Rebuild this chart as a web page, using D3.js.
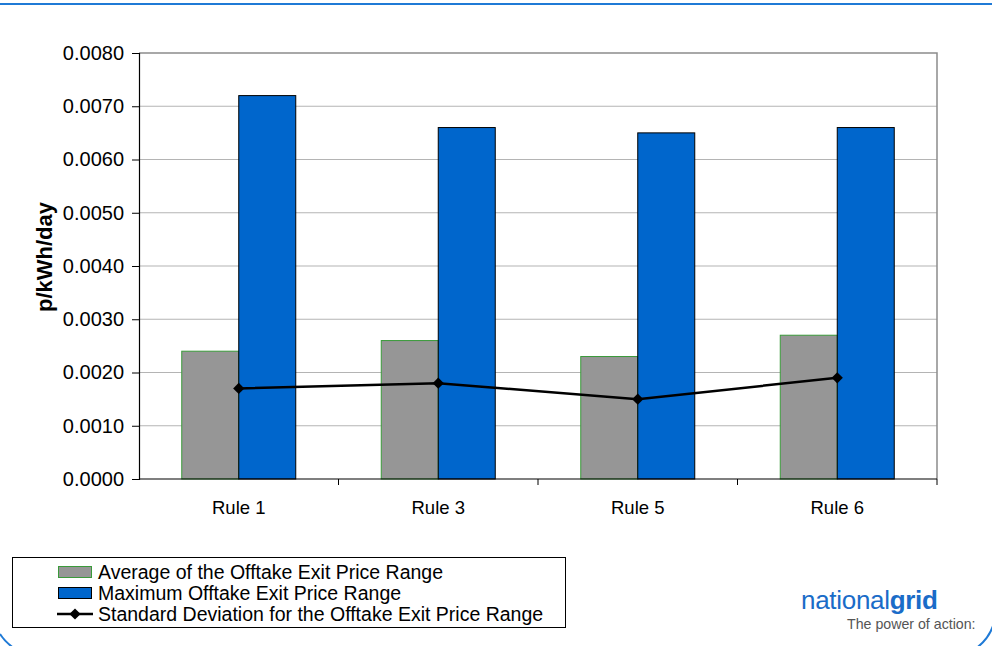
<!DOCTYPE html>
<html>
<head>
<meta charset="utf-8">
<script src="https://cdn.jsdelivr.net/npm/d3@7/dist/d3.min.js"></script>
<style>
  html, body { margin: 0; padding: 0; background: #fff; }
  svg { display: block; font-family: "Liberation Sans", Arial, sans-serif; }
</style>
</head>
<body>
<svg id="chart" width="992" height="646"></svg>
<script>
// Offtake exit price statistics per charging rule (p/kWh/day)
const categories = ["Rule 1", "Rule 3", "Rule 5", "Rule 6"];
const averageRange = [0.0024, 0.0026, 0.0023, 0.0027];
const maximumRange = [0.0072, 0.0066, 0.0065, 0.0066];
const stdDeviation = [0.0017, 0.0018, 0.0015, 0.0019];
const yTicks = [0, 0.001, 0.002, 0.003, 0.004, 0.005, 0.006, 0.007, 0.008];
const seriesNames = [
  "Average of the Offtake Exit Price Range",
  "Maximum Offtake Exit Price Range",
  "Standard Deviation for the Offtake Exit Price Range"
];

const svg = d3.select("#chart");
const plot = { left: 139, right: 937, top: 53, bottom: 479 };

// Page frame (blue rounded border)
const frame = svg.append("g").attr("fill", "none").attr("stroke", "#1f7ad6").attr("stroke-width", 2);
frame.append("line").attr("x1", 0).attr("x2", 992).attr("y1", 4).attr("y2", 4);
frame.append("path").attr("d", "M0,634 Q5,642 15,649");
frame.append("path").attr("d", "M993,626 Q988,640 975,649");

const x = d3.scaleBand().domain(categories).range([plot.left, plot.right]).paddingInner(0).paddingOuter(0);
const y = d3.scaleLinear().domain([0, 0.008]).range([plot.bottom, plot.top]);

// Bar layout: two bars per category, gap of 1.5 bar widths
const barW = x.bandwidth() / 3.5;

// Gridlines
svg.append("g").selectAll("line").data(yTicks.filter(d => d > 0 && d < 0.008)).join("line")
  .attr("x1", plot.left).attr("x2", plot.right)
  .attr("y1", d => y(d)).attr("y2", d => y(d))
  .attr("stroke", "#b4b4b4").attr("stroke-width", 1.2);

// Plot area border (top and right)
svg.append("path")
  .attr("d", `M${plot.left},${y(0.008)}H${plot.right}V${plot.bottom}`)
  .attr("fill", "none").attr("stroke", "#8c8c8c").attr("stroke-width", 1.5);

// Average bars
svg.append("g").selectAll("rect").data(averageRange).join("rect")
  .attr("x", (d, i) => x(categories[i]) + x.bandwidth() / 2 - barW)
  .attr("y", d => y(d))
  .attr("width", barW)
  .attr("height", d => y(0) - y(d))
  .attr("fill", "#969696").attr("stroke", "#3a9a3a").attr("stroke-width", 1);

// Maximum bars
svg.append("g").selectAll("rect").data(maximumRange).join("rect")
  .attr("x", (d, i) => x(categories[i]) + x.bandwidth() / 2)
  .attr("y", d => y(d))
  .attr("width", barW)
  .attr("height", d => y(0) - y(d))
  .attr("fill", "#0066cc").attr("stroke", "#000").attr("stroke-width", 1);

// Y axis
const yAxis = svg.append("g").attr("transform", `translate(${plot.left},0)`)
  .call(d3.axisLeft(y).tickValues(yTicks).tickFormat(d3.format(".4f")).tickSize(7).tickPadding(8));
yAxis.select(".domain").attr("stroke", "#000").attr("stroke-width", 1.2);
yAxis.selectAll(".tick line").attr("stroke", "#000");
yAxis.selectAll("text").attr("font-size", 20).attr("fill", "#000")
  .attr("font-family", "Liberation Sans, Arial, sans-serif");

// X axis with ticks at category boundaries
const xAxis = svg.append("g").attr("transform", `translate(0,${plot.bottom})`);
xAxis.append("line").attr("x1", plot.left).attr("x2", plot.right)
  .attr("stroke", "#000").attr("stroke-width", 1.2);
xAxis.selectAll(".bound").data(categories).join("line").attr("class", "bound")
  .attr("x1", d => x(d) + x.bandwidth()).attr("x2", d => x(d) + x.bandwidth())
  .attr("y1", 0).attr("y2", 6).attr("stroke", "#000");
xAxis.selectAll("text").data(categories).join("text")
  .attr("x", d => x(d) + x.bandwidth() / 2).attr("y", 35)
  .attr("text-anchor", "middle").attr("font-size", 18.5).text(d => d);

// Y axis title
svg.append("text")
  .attr("transform", `translate(52,257) rotate(-90)`)
  .attr("text-anchor", "middle").attr("font-size", 22).attr("font-weight", "bold")
  .text("p/kWh/day");

// Standard deviation line with diamond markers
const line = d3.line().x((d, i) => x(categories[i]) + x.bandwidth() / 2).y(d => y(d));
svg.append("path").datum(stdDeviation).attr("d", line)
  .attr("fill", "none").attr("stroke", "#000").attr("stroke-width", 2.5);
const diamond = d3.symbol().type(d3.symbolDiamond2).size(80);
svg.append("g").selectAll("path").data(stdDeviation).join("path")
  .attr("transform", (d, i) => `translate(${x(categories[i]) + x.bandwidth() / 2},${y(d)})`)
  .attr("d", diamond).attr("fill", "#000");

// Legend
const legend = svg.append("g");
legend.append("rect").attr("x", 12.5).attr("y", 557.5).attr("width", 553).attr("height", 70)
  .attr("fill", "#fff").attr("stroke", "#000").attr("stroke-width", 1);
const rowY = [572, 593, 614];
legend.append("rect").attr("x", 58.5).attr("y", rowY[0] - 5.5).attr("width", 33).attr("height", 11)
  .attr("fill", "#969696").attr("stroke", "#3a9a3a");
legend.append("rect").attr("x", 58.5).attr("y", rowY[1] - 5.5).attr("width", 33).attr("height", 11)
  .attr("fill", "#0066cc").attr("stroke", "#000");
legend.append("line").attr("x1", 57).attr("x2", 93).attr("y1", rowY[2]).attr("y2", rowY[2])
  .attr("stroke", "#000").attr("stroke-width", 2.5);
legend.append("path").attr("transform", `translate(75,${rowY[2]})`).attr("d", diamond).attr("fill", "#000");
legend.selectAll("text.lbl").data(seriesNames).join("text").attr("class", "lbl")
  .attr("x", 98).attr("y", (d, i) => rowY[i] + 7)
  .attr("font-size", 19.5).text(d => d);

// Logo
const logo = svg.append("text").attr("x", 801).attr("y", 609).attr("font-size", 26)
  .attr("fill", "#1a6cc8").attr("letter-spacing", -0.3);
logo.append("tspan").text("national");
logo.append("tspan").attr("font-weight", "bold").text("grid");
svg.append("text").attr("x", 847).attr("y", 629).attr("font-size", 14.2)
  .attr("fill", "#555").text("The power of action:");
</script>
</body>
</html>
